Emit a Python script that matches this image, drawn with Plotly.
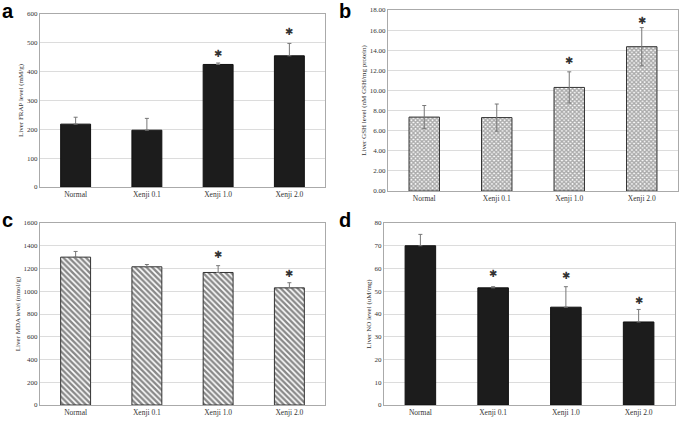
import plotly.graph_objects as go

categories = ["Normal", "Xenji 0.1", "Xenji 1.0", "Xenji 2.0"]

frap_vals = [218, 197, 425, 455]
frap_err = [24, 41, 5, 43]
frap_star = [None, None, 462, 538]

gsh_vals = [7.35, 7.3, 10.3, 14.35]
gsh_err = [1.15, 1.35, 1.55, 1.9]
gsh_star = [None, None, 13.0, 17.0]

mda_vals = [1300, 1215, 1165, 1030]
mda_err = [50, 20, 60, 45]
mda_star = [None, None, 1320, 1160]

no_vals = [70, 51.5, 43, 36.5]
no_err = [5, 0.5, 9, 5.5]
no_star = [None, 57.8, 57.0, 46.0]

W, H = 685, 422
def fx(px): return px / W
def fy(py): return 1 - py / H

panels = [
    dict(vals=frap_vals, err=frap_err, sym=False, star=frap_star, title="Liver FRAP level (mM/g)",
         rng=[0, 600], dtick=100, fmt="d", x=(40, 325), y=(14, 187),
         marker=dict(color="#1c1c1c", line=dict(color="#111", width=1)), letter="a", lx=0, ly=11),
    dict(vals=gsh_vals, err=gsh_err, sym=True, star=gsh_star, title="Liver GSH level (nM GSH/mg protein)",
         rng=[0, 18], dtick=2, fmt=".2f", x=(388, 678), y=(10, 191),
         marker=dict(color="white", line=dict(color="#333", width=1),
                     pattern=dict(shape="x", size=3, solidity=0.7, fgcolor="#555", bgcolor="white")),
         letter="b", lx=337, ly=11),
    dict(vals=mda_vals, err=mda_err, sym=False, star=mda_star, title="Liver MDA level (nmol/g)",
         rng=[0, 1600], dtick=200, fmt="d", x=(40, 325), y=(223, 405),
         marker=dict(color="white", line=dict(color="#333", width=1),
                     pattern=dict(shape="\\", size=4, solidity=0.6, fgcolor="#111", bgcolor="white")),
         letter="c", lx=0, ly=220),
    dict(vals=no_vals, err=no_err, sym=False, star=no_star, title="Liver NO level (uM/mg)",
         rng=[0, 80], dtick=10, fmt="d", x=(384, 675), y=(223, 405),
         marker=dict(color="#1c1c1c", line=dict(color="#111", width=1)), letter="d", lx=337, ly=220),
]

fig = go.Figure()
font_serif = "Liberation Serif"
annotations = []
for i, p in enumerate(panels, start=1):
    xa = "x" if i == 1 else f"x{i}"
    ya = "y" if i == 1 else f"y{i}"
    err = dict(type="data", array=p["err"], visible=True, color="#777",
               thickness=1, width=2, symmetric=p["sym"])
    if not p["sym"]:
        err["arrayminus"] = [0] * len(p["err"])
    fig.add_trace(go.Bar(
        x=categories, y=p["vals"], xaxis=xa, yaxis=ya, marker=p["marker"],
        error_y=err, showlegend=False, width=0.42, hoverinfo="skip",
    ))
    for c, s in zip(categories, p["star"]):
        if s is not None:
            annotations.append(dict(x=c, y=s, xref=xa, yref=ya, text="\u2731", showarrow=False,
                                    font=dict(family="DejaVu Sans", size=10, color="#333"),
                                    yanchor="middle"))
    annotations.append(dict(x=fx(p["lx"]), y=fy(p["ly"]), xref="paper", yref="paper",
                            text=f"<b>{p['letter']}</b>", showarrow=False,
                            font=dict(family="Liberation Sans", size=20, color="black"),
                            xanchor="left", yanchor="middle"))
    xkey = "xaxis" if i == 1 else f"xaxis{i}"
    ykey = "yaxis" if i == 1 else f"yaxis{i}"
    fig.update_layout(**{
        xkey: dict(domain=[fx(p["x"][0]), fx(p["x"][1])], anchor=ya, automargin=False,
                   showline=True, linecolor="#aaa", linewidth=1, mirror=True,
                   ticks="", tickfont=dict(family=font_serif, size=7.5, color="#333"),
                   showgrid=False),
        ykey: dict(domain=[fy(p["y"][1]), fy(p["y"][0])], anchor=xa, automargin=False,
                   range=p["rng"], dtick=p["dtick"], tickformat=p["fmt"],
                   showline=True, linecolor="#aaa", linewidth=1, mirror=True,
                   gridcolor="#dcdcdc", gridwidth=1, zeroline=False,
                   ticks="",
                   tickfont=dict(family=font_serif, size=7, color="#333"),
                   title=dict(text=p["title"], font=dict(family=font_serif, size=7, color="#333"),
                              standoff=2)),
    })

fig.update_layout(width=W, height=H, margin=dict(l=0, r=0, t=0, b=0),
                  paper_bgcolor="white", plot_bgcolor="white",
                  annotations=annotations, bargap=0.58)
fig.write_html("out.html", config={"displayModeBar": False},
               post_script="document.body.style.margin='0';document.body.style.overflow='hidden';")
